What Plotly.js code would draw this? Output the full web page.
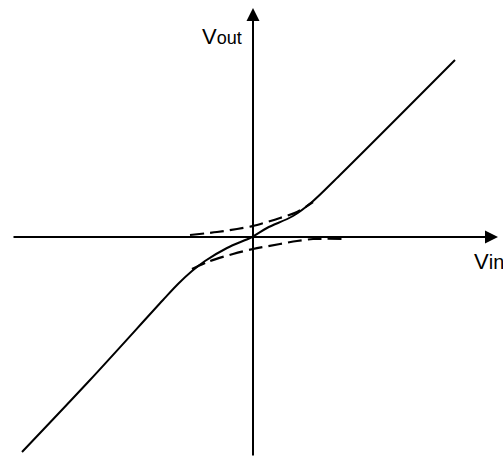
<!DOCTYPE html>
<html>
<head>
<meta charset="utf-8">
<script src="https://cdn.plot.ly/plotly-3.0.1.min.js"></script>
<style>html,body{margin:0;padding:0;background:#fff;}#chart{width:503px;height:461px;}</style>
</head>
<body>
<div id="chart"></div>
<script>
// Transfer characteristic (Vin -> Vout)
var solidX = [-231, -163, -90, -75, -61, -48, -26, -1, 14, 40, 59, 87, 202];
var solidY = [-215, -143, -63, -47, -34, -24, -11, 0, 9, 21, 35, 62, 177];

var upperDashX = [-63, -36, -16, 0, 27, 44, 60];
var upperDashY = [2, 5, 8, 11, 19, 25, 35];

var lowerDashX = [-61, -43, -20, 0, 27, 44, 60, 94];
var lowerDashY = [-32, -24, -17, -12, -7, -4, -2, -2];

// axis extents (tail, tip)
var xAxisSpan = [-241, 245];
var yAxisSpan = [-220, 229];

var axisLabels = ['V<span style="font-size:18px">out</span>', 'V<span style="font-size:20px">in</span>'];

var traces = [
  {x: solidX, y: solidY, mode: 'lines', line: {color: '#000', width: 2, shape: 'spline', smoothing: 0.9}, hoverinfo: 'skip'},
  {x: upperDashX, y: upperDashY, mode: 'lines', line: {color: '#000', width: 2.2, dash: '14px,6px', shape: 'spline', smoothing: 0.8}, hoverinfo: 'skip'},
  {x: lowerDashX, y: lowerDashY, mode: 'lines', line: {color: '#000', width: 2.2, dash: '14px,6px', shape: 'spline', smoothing: 0.8}, hoverinfo: 'skip'}
];

var layout = {
  width: 503, height: 461,
  margin: {l: 0, r: 0, t: 0, b: 0},
  paper_bgcolor: '#fff', plot_bgcolor: '#fff',
  showlegend: false,
  xaxis: {range: [-253, 250], visible: false, fixedrange: true},
  yaxis: {range: [-224, 237], visible: false, fixedrange: true},
  font: {family: 'Liberation Sans, Arial, sans-serif', color: '#000'},
  annotations: [
    {x: xAxisSpan[1], y: 0, ax: xAxisSpan[0], ay: 0, axref: 'x', ayref: 'y', xref: 'x', yref: 'y',
     text: '', showarrow: true, arrowhead: 2, arrowsize: 1.3, arrowwidth: 2, arrowcolor: '#000', standoff: 0, startstandoff: 0},
    {x: 0, y: yAxisSpan[1], ax: 0, ay: yAxisSpan[0], axref: 'x', ayref: 'y', xref: 'x', yref: 'y',
     text: '', showarrow: true, arrowhead: 2, arrowsize: 1.3, arrowwidth: 2, arrowcolor: '#000', standoff: 0, startstandoff: 0},
    {x: -53, y: 201, xref: 'x', yref: 'y', xanchor: 'left', yanchor: 'middle', showarrow: false,
     text: axisLabels[0], font: {size: 22, color: '#000'}},
    {x: 219, y: -24, xref: 'x', yref: 'y', xanchor: 'left', yanchor: 'middle', showarrow: false,
     text: axisLabels[1], font: {size: 22, color: '#000'}}
  ]
};

Plotly.newPlot('chart', traces, layout, {staticPlot: true, displayModeBar: false});
</script>
</body>
</html>
